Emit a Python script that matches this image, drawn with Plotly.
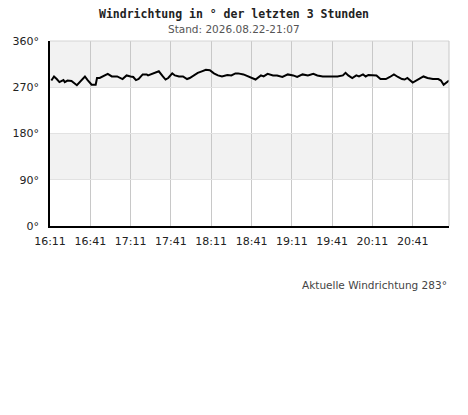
import plotly.graph_objects as go
from datetime import datetime, timedelta

DAY = "2026-08-22"
start_time = "16:11"
end_time = "21:08"

# minutes after 16:11 and wind direction (deg)
minutes = [1, 3, 5, 7, 10, 11, 13, 16, 20, 24, 26, 28, 31, 34, 35, 37, 40, 43, 46, 50,
           54, 57, 60, 62, 64, 66, 69, 72, 73, 76, 79, 81, 84, 86, 88, 91, 93, 96, 99, 102,
           104, 107, 110, 113, 116, 119, 122, 125, 128, 132, 135, 138, 140, 144, 149, 153, 157, 159, 162, 166,
           169, 173, 177, 181, 184, 188, 192, 196, 199, 203, 207, 210, 214, 218, 220, 222, 225, 228, 230, 233,
           235, 237, 241, 243, 246, 250, 253, 256, 259, 262, 264, 266, 270, 272, 275, 278, 281, 285, 289, 291,
           293, 296, 297]
direction = [283, 291, 286, 280, 284, 280, 283, 282, 274, 285, 291, 284, 275, 275, 288, 288, 292, 296, 291, 291,
             286, 293, 291, 290, 284, 286, 295, 295, 293, 296, 298, 301, 291, 285, 288, 297, 293, 291, 291, 286,
             288, 293, 298, 301, 304, 303, 297, 293, 291, 294, 293, 297, 297, 295, 290, 285, 293, 291, 296, 293,
             293, 290, 295, 293, 290, 295, 293, 296, 293, 291, 291, 291, 291, 293, 298, 293, 288, 293, 291, 295,
             291, 294, 293, 293, 286, 286, 290, 295, 290, 286, 285, 288, 279, 282, 285, 291, 288, 286, 286, 283,
             275, 280, 283]

x_tick_labels = ["16:11", "16:41", "17:11", "17:41", "18:11", "18:41", "19:11", "19:41", "20:11", "20:41"]
y_tick_vals = [0, 90, 180, 270, 360]
y_tick_labels = ["0°", "90°", "180°", "270°", "360°"]
bands = [(270, 360), (90, 180)]

title = "Windrichtung in ° der letzten 3 Stunden"
subtitle = "Stand: 2026.08.22-21:07"
current_text = "Aktuelle Windrichtung 283°"

t0 = datetime.fromisoformat(f"{DAY}T{start_time}")
times = [t0 + timedelta(minutes=m) for m in minutes]
x_ticks = [datetime.fromisoformat(f"{DAY}T{t}") for t in x_tick_labels]
x_end = datetime.fromisoformat(f"{DAY}T{end_time}")

fig = go.Figure()
fig.add_trace(go.Scatter(x=times, y=direction, mode="lines",
                         line=dict(color="black", width=2), hoverinfo="skip"))

shapes = []
for lo, hi in bands:
    shapes.append(dict(type="rect", xref="paper", yref="y", x0=0, x1=1, y0=lo, y1=hi,
                       fillcolor="#f2f2f2", line=dict(width=0), layer="below"))
shapes.append(dict(type="line", xref="paper", yref="paper", x0=0, x1=1, y0=1, y1=1,
                   line=dict(color="#d4d4d4", width=1)))
shapes.append(dict(type="line", xref="paper", yref="paper", x0=1, x1=1, y0=0, y1=1,
                   line=dict(color="#c8c8c8", width=1)))

center_x = 0.4624

fig.update_layout(
    width=468, height=415,
    margin=dict(l=42, r=27, t=33, b=197),
    paper_bgcolor="white", plot_bgcolor="rgba(0,0,0,0)",
    showlegend=False,
    shapes=shapes,
    font=dict(family="DejaVu Sans", size=11, color="#222"),
    annotations=[
        dict(text="<b>" + title + "</b>", xref="paper", yref="paper", x=center_x, y=1,
             yshift=27, xanchor="center", yanchor="middle", showarrow=False,
             font=dict(family="DejaVu Sans Mono", size=11.5, color="#222")),
        dict(text=subtitle, xref="paper", yref="paper", x=center_x, y=1, yshift=12,
             xanchor="center", yanchor="middle", showarrow=False,
             font=dict(family="DejaVu Sans", size=10.5, color="#555")),
        dict(text=current_text, xref="paper", yref="paper", x=1, y=0, yshift=-59,
             xanchor="right", yanchor="middle", showarrow=False,
             font=dict(family="DejaVu Sans", size=10.5, color="#444")),
    ],
)
fig.update_xaxes(
    type="date", range=[t0, x_end], automargin=False,
    tickvals=x_ticks, ticktext=x_tick_labels,
    showgrid=True, gridcolor="#c8c8c8", gridwidth=1,
    showline=True, linecolor="black", linewidth=1.5,
    ticks="", ticklabelstandoff=4, zeroline=False,
    tickfont=dict(family="DejaVu Sans", size=11, color="#222"),
)
fig.update_yaxes(
    range=[0, 360], tickvals=y_tick_vals, ticktext=y_tick_labels, automargin=False,
    showgrid=True, gridcolor="#e2e2e2", gridwidth=1,
    showline=True, linecolor="black", linewidth=1.5,
    ticks="", ticklabelstandoff=7, zeroline=False,
    tickfont=dict(family="DejaVu Sans", size=11, color="#222"),
)

fig.write_html("out.html")
